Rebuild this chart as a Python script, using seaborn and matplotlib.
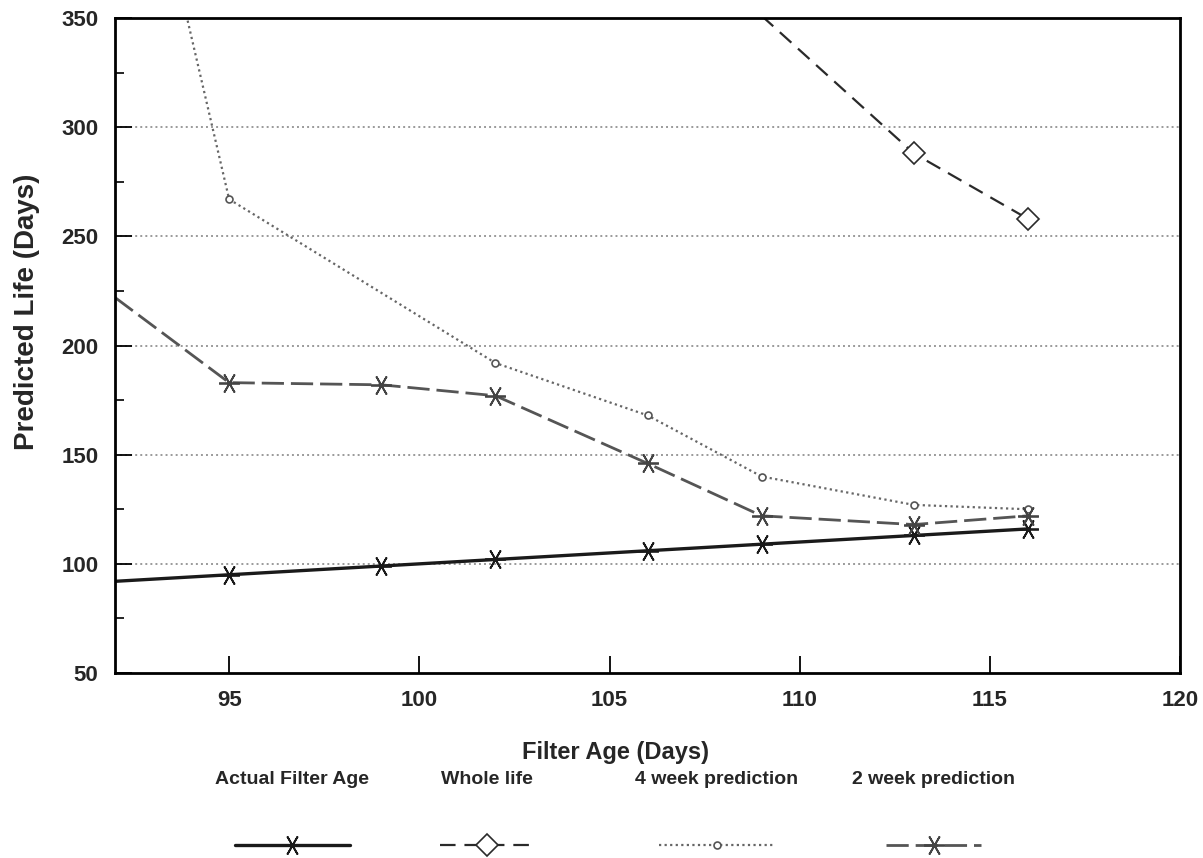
import pandas as pd
import seaborn as sns
import matplotlib.pyplot as plt
from matplotlib import font_manager

# Valores (o primeiro ponto de cada série fica fora/na borda do eixo)
idade_real_x = [92, 95, 99, 102, 106, 109, 113, 116]
idade_real_y = [92, 95, 99, 102, 106, 109, 113, 116]

vida_toda_x = [109, 113, 116]
vida_toda_y = [351, 288, 258]

quatro_sem_x = [92, 95, 102, 106, 109, 113, 116]
quatro_sem_y = [492, 267, 192, 168, 140, 127, 125]

duas_sem_x = [92, 95, 99, 102, 106, 109, 113, 116]
duas_sem_y = [222, 183, 182, 177, 146, 122, 118, 122]

rotulos = ['Actual Filter Age', 'Whole life', '4 week prediction', '2 week prediction']
x_ticks = [95, 100, 105, 110, 115, 120]
y_ticks = [50, 100, 150, 200, 250, 300, 350]

sns.set_style('white')
nomes = {f.name for f in font_manager.fontManager.ttflist}
familia = 'Liberation Sans Narrow' if 'Liberation Sans Narrow' in nomes else 'Liberation Sans'
plt.rcParams['font.family'] = [familia, 'DejaVu Sans']

fig = plt.figure(figsize=(12.03, 8.58), dpi=100)
ax = fig.add_axes([0.0956, 0.2156, 0.8854, 0.7634])

asterisco = (6, 2, 90)

sns.lineplot(x=idade_real_x, y=idade_real_y, ax=ax, color='#1a1a1a', lw=2.4,
             marker=asterisco, markersize=15, mec='#1a1a1a', mew=1.3,
             markevery=list(range(1, len(idade_real_x))), label=rotulos[0])
sns.lineplot(x=vida_toda_x, y=vida_toda_y, ax=ax, color='#2a2a2a', lw=1.6,
             linestyle=(0, (7, 4)), marker='D', markersize=11, mfc='white',
             mec='#2a2a2a', mew=1.2, markevery=[1, 2], label=rotulos[1])
sns.lineplot(x=quatro_sem_x, y=quatro_sem_y, ax=ax, color='#666666', lw=1.6,
             linestyle=(0, (1, 1.5)), marker='o', markersize=5, mfc='white',
             mec='#555555', mew=1.2, markevery=list(range(1, len(quatro_sem_x))),
             label=rotulos[2])
sns.lineplot(x=duas_sem_x, y=duas_sem_y, ax=ax, color='#555555', lw=2.0,
             linestyle=(0, (8, 2.5)), marker=asterisco, markersize=15,
             mec='#444444', mew=1.3, markevery=list(range(1, len(duas_sem_x))),
             label=rotulos[3])

ax.set_xlim(92, 120)
ax.set_ylim(50, 350)
ax.set_xticks(x_ticks)
ax.set_yticks(y_ticks)
ax.set_yticks([75, 125, 175, 225, 275, 325], minor=True)
ax.tick_params(axis='both', which='major', direction='in', length=12, width=1.3,
               color='black', labelsize=16, pad=12)
ax.tick_params(axis='y', which='minor', direction='in', length=6.5, width=1.2,
               color='black', left=True)
ax.tick_params(axis='x', bottom=True)
ax.tick_params(axis='y', left=True)
for lab in ax.get_xticklabels() + ax.get_yticklabels():
    lab.set_fontweight('bold')

ax.grid(False)
for yv in y_ticks[1:-1]:
    ax.axhline(yv, color='#9a9a9a', lw=1.4, linestyle=(0, (1, 1.6)), zorder=0)

for lado in ['top', 'right', 'left', 'bottom']:
    ax.spines[lado].set_visible(True)
    ax.spines[lado].set_color('black')
    ax.spines[lado].set_linewidth(2)

ax.set_xlabel('Filter Age (Days)', fontsize=17, fontweight='bold')
ax.set_ylabel('Predicted Life (Days)', fontsize=20, fontweight='bold')
ax.xaxis.set_label_coords(0.47, -0.104)
ax.yaxis.set_label_coords(-0.07, 0.551)

# Legenda: um bloco por série, com o texto acima da amostra
handles, labels = ax.get_legend_handles_labels()
ax.get_legend().remove()
centros = [0.243, 0.405, 0.596, 0.776]
comprimentos = [8.3, 6.8, 8.3, 6.8]
for h, lab, cx, comp in zip(handles, labels, centros, comprimentos):
    fig.legend(handles=[h], labels=[''], title=lab, loc='upper center',
               bbox_to_anchor=(cx, 0.116), frameon=False, numpoints=1,
               handlelength=comp, handletextpad=0, labelspacing=3.7,
               title_fontproperties={'size': 14, 'weight': 'bold', 'family': familia})

fig.savefig('out.png', dpi=100)
